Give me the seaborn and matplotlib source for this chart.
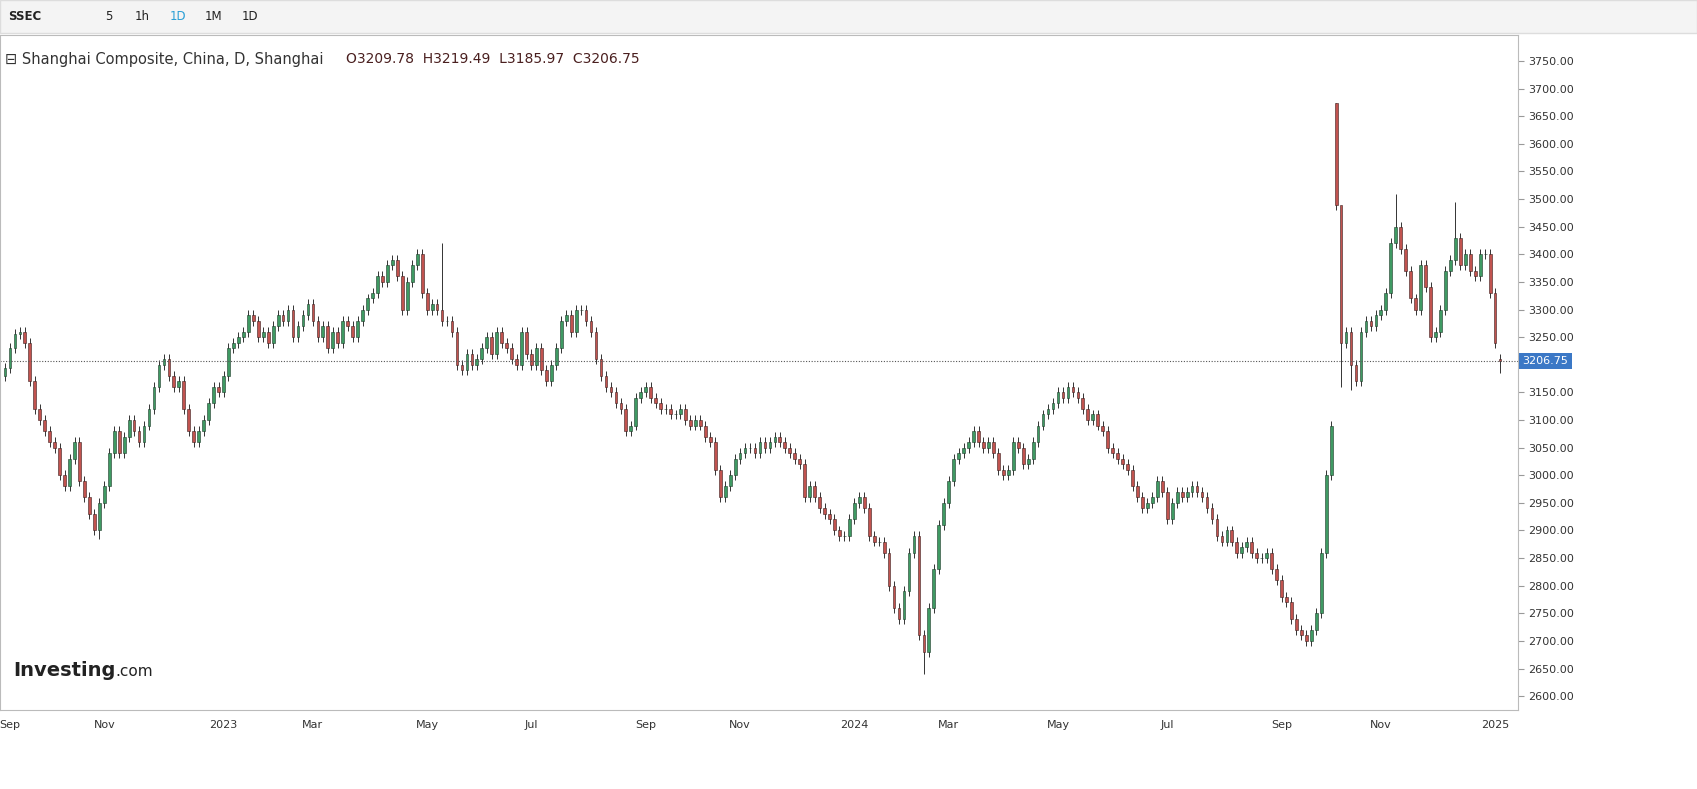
import numpy as np
import matplotlib
matplotlib.use("Agg")
import matplotlib.pyplot as plt
import seaborn as sns

closes = [
3195,3230,3255,3260,3240,3170,3120,3100,3080,3060,
3050,3000,2980,3030,3060,2990,2960,2930,2900,2950,
2980,3040,3080,3040,3070,3100,3080,3060,3090,3120,
3160,3200,3210,3180,3160,3170,3120,3080,3060,3080,
3100,3130,3160,3150,3180,3230,3240,3250,3260,3290,
3280,3250,3260,3240,3270,3290,3280,3300,3250,3270,
3290,3310,3280,3250,3270,3230,3260,3240,3280,3270,
3250,3280,3300,3320,3330,3360,3350,3380,3390,3360,
3300,3350,3380,3400,3330,3300,3310,3300,3280,3280,
3260,3200,3190,3220,3200,3210,3230,3250,3220,3260,
3240,3230,3210,3200,3260,3220,3200,3230,3190,3170,
3200,3230,3280,3290,3260,3300,3300,3280,3260,3210,
3180,3160,3150,3130,3120,3080,3090,3140,3150,3160,
3140,3130,3120,3120,3110,3110,3120,3100,3090,3100,
3090,3070,3060,3010,2960,2980,3000,3030,3040,3050,
3050,3040,3060,3050,3060,3070,3060,3050,3040,3030,
3020,2960,2980,2960,2940,2930,2920,2900,2890,2890,
2920,2950,2960,2940,2890,2880,2880,2860,2800,2760,
2740,2790,2860,2890,2710,2680,2760,2830,2910,2950,
2990,3030,3040,3050,3060,3080,3060,3050,3060,3040,
3010,3000,3010,3060,3050,3020,3030,3060,3090,3110,
3120,3130,3150,3140,3160,3150,3140,3120,3100,3110,
3090,3080,3050,3040,3030,3020,3010,2980,2960,2940,
2950,2960,2990,2970,2920,2950,2970,2960,2970,2980,
2970,2960,2940,2920,2890,2880,2900,2880,2860,2870,
2880,2860,2850,2850,2860,2830,2810,2780,2770,2740,
2720,2710,2700,2720,2750,2860,3000,3090,3490,3240,
3260,3200,3170,3260,3280,3270,3290,3300,3330,3420,
3450,3410,3370,3320,3300,3380,3340,3250,3260,3300,
3370,3390,3430,3380,3400,3370,3360,3400,3400,3330,3240,3206.75,
]
first_open = 3180
open_overrides = {268: 3674, 301: 3209.78}
high_overrides = {268: 3674, 301: 3219.49, 88: 3420, 269: 3330, 280: 3510, 292: 3495}
low_overrides = {301: 3185.97, 185: 2640, 269: 3160, 271: 3155, 19: 2885}

month_labels = ["Sep","Nov","2023","Mar","May","Jul","Sep","Nov","2024","Mar","May","Jul","Sep","Nov","2025"]
month_pos = [1,20,44,62,85,106,129,148,171,190,212,234,257,277,300]
yticks = list(range(2600, 3751, 50))
last_price = 3206.75

sns.set_style("white")
plt.rcParams['font.family'] = ['DejaVu Sans']

n = len(closes)
opens = [first_open] + closes[:-1]
for k, v in open_overrides.items():
    opens[k] = v
o = np.array(opens, float); c = np.array(closes, float)
wick = 9
hi = np.maximum(o, c) + wick
lo = np.minimum(o, c) - wick
for k, v in high_overrides.items(): hi[k] = v
for k, v in low_overrides.items(): lo[k] = v
x = np.arange(n)

fig = plt.figure(figsize=(16.97, 7.89), dpi=100)
ax = fig.add_axes([0, 1-710/789, 1518/1697, (710-35)/789])
up = c >= o
green, red = "#3f9a63", "#c1534f"
ax.vlines(x, lo, hi, color="#333333", lw=0.7, zorder=1)
ax.bar(x[up], (c-o)[up], bottom=o[up], width=0.55, color=green, edgecolor="#1f3a2a", lw=0.4, zorder=2)
ax.bar(x[~up], (o-c)[~up], bottom=c[~up], width=0.55, color=red, edgecolor="#3a1f1f", lw=0.4, zorder=2)
ax.axhline(last_price, color="#555555", lw=0.8, ls=(0, (1, 1.5)))
ax.set_xlim(-1, (1518/1505)*n)
ax.set_ylim(2575, 3797)
ax.yaxis.tick_right()
shown = [v for v in yticks if v != 3200]
ax.set_yticks(shown)
ax.set_yticklabels([f"{v:.2f}" for v in shown], fontsize=8, color="#333333")
ax.set_xticks(month_pos)
ax.set_xticklabels(month_labels, fontsize=8, color="#333333")
ax.tick_params(axis="both", length=4, color="#999999")
for s in ax.spines.values():
    s.set_color("#bbbbbb")
ax.text(1.003, last_price, f"{last_price:.2f}", transform=ax.get_yaxis_transform(), fontsize=8,
        color="white", va="center", ha="left", zorder=10, clip_on=False,
        bbox=dict(boxstyle="square,pad=0.3", fc="#3b78c6", ec="none"))
ax.text(0.003, 0.975, "⊟ Shanghai Composite, China, D, Shanghai", transform=ax.transAxes,
        fontsize=10.5, color="#333333", va="top")
ax.text(0.228, 0.975, "O3209.78  H3219.49  L3185.97  C3206.75", transform=ax.transAxes,
        fontsize=10, color="#4a1f1f", va="top")
ax.text(0.009, 0.05, "Investing", transform=ax.transAxes, fontsize=14, fontweight="bold", color="#222222")
ax.text(0.076, 0.05, ".com", transform=ax.transAxes, fontsize=11, color="#222222")
fig.patches.append(plt.Rectangle((0, 1-33/789), 1, 33/789, transform=fig.transFigure, fc="#f4f4f4", ec="#dddddd"))
for xp, t in [(8, "SSEC"), (105, "5"), (135, "1h"), (170, "1D"), (205, "1M"), (242, "1D")]:
    fig.text(xp/1697, 1-16/789, t, fontsize=8.5, fontweight="bold" if t == "SSEC" else "normal",
             color="#2a9fd6" if t == "1D" and xp == 170 else "#222222", va="center")
fig.savefig("out.png", dpi=100, facecolor="white")
